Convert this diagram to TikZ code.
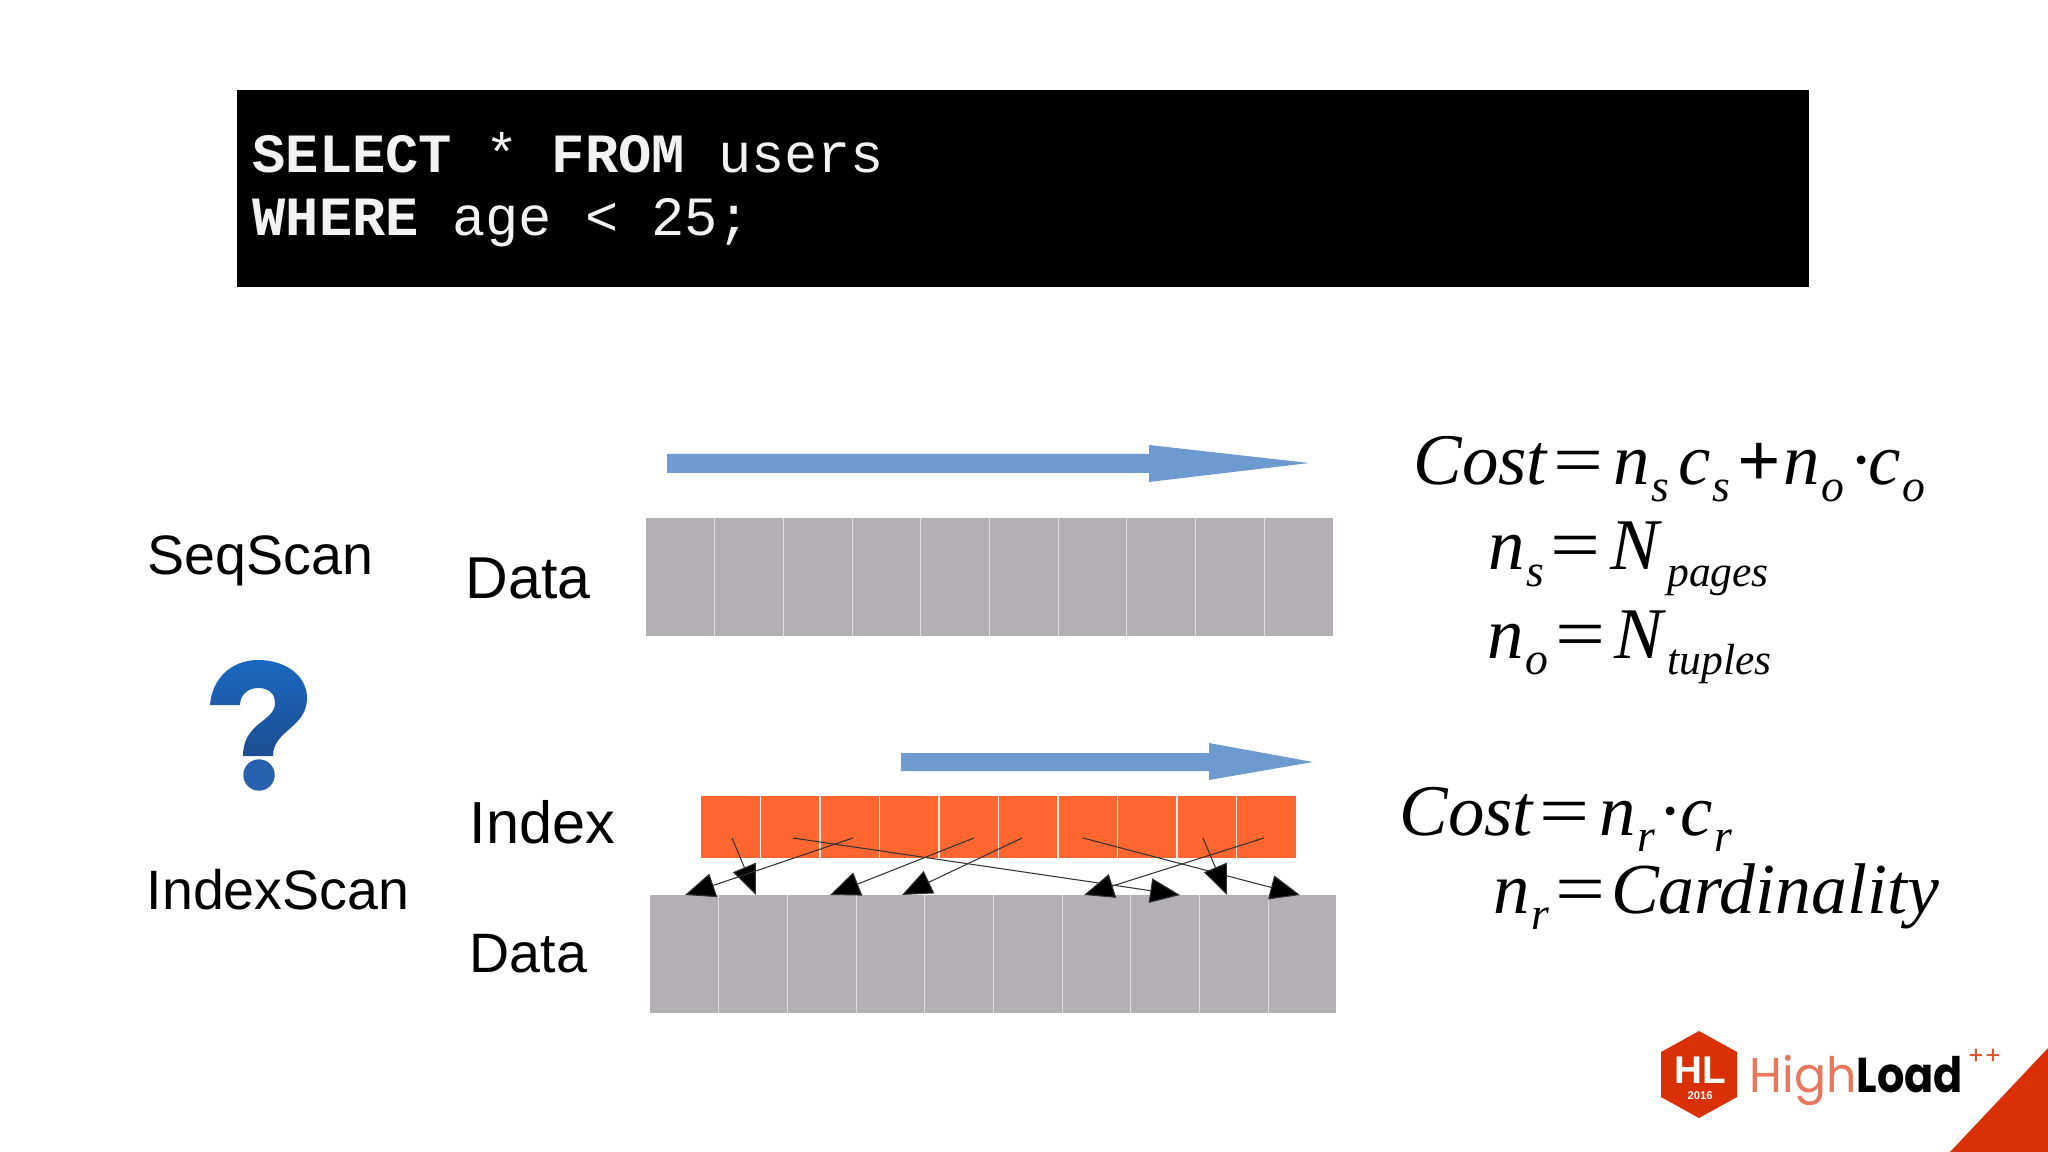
\documentclass[tikz,border=0pt]{standalone}
\usepackage{fontspec}
\setmainfont{Liberation Sans}
\setmonofont{Liberation Mono}
\newfontfamily\formfont{Liberation Serif}
\newfontfamily\logofont{Poppins}
\usetikzlibrary{arrows.meta}
\definecolor{datagray}{HTML}{B2B0B2}
\definecolor{cellline}{HTML}{DEDEDE}
\definecolor{idxorange}{HTML}{FF6630}
\definecolor{scanblue}{HTML}{6E9BCF}
\definecolor{hlred}{HTML}{DA3008}
\definecolor{asktop}{HTML}{1A68C0}
\definecolor{askbottom}{HTML}{1C4E92}
\definecolor{askdot}{HTML}{2760AC}
\newcommand{\lowidx}[1]{\hspace{0.5pt}\raisebox{-4.6pt}{\fontsize{13pt}{13pt}\selectfont #1}}
\newcommand{\lowword}[1]{\raisebox{-4.6pt}{\fontsize{12.4pt}{13pt}\selectfont #1}}
\newcommand{\eqsign}{\hspace{1.8pt}\scalebox{1.22}[1]{\upshape=}\hspace{2.8pt}}
\tikzset{
  label sans/.style={inner sep=0pt,anchor=base west,font=\fontsize{15.8pt}{18pt}\selectfont},
  sql line/.style={inner sep=0pt,anchor=base west,text=white!95!black,font=\ttfamily\fontsize{15.75pt}{18pt}\selectfont},
  formula/.style={inner sep=0pt,anchor=base west,font=\formfont\itshape\fontsize{20.7pt}{24pt}\selectfont},
  ptr/.style={draw=black!80,line width=0.3pt,-{Triangle[length=8.5pt,width=7pt,fill=black]}}
}
\begin{document}
\begin{tikzpicture}[x=0.01cm,y=-0.01cm]
    \useasboundingbox (0,0) rectangle (2048,1152);

    % requete
    \fill[black] (236.5,90) rectangle (1809,287.5);
    \node[sql line] (sqlA) at (252,172.5) {\textbf{SELECT} * \textbf{FROM} users};
    \node[sql line] (sqlB) at (252,235.5) {\textbf{WHERE} age < 25;};

    % libelles
    \node[label sans] (seq) at (147,574) {SeqScan};
    \node[label sans] (idxscan) at (146,909) {IndexScan};
    \node[label sans,font=\fontsize{16.8pt}{18pt}\selectfont] (dataA) at (465,599) {Data};
    \node[label sans,font=\fontsize{16.9pt}{18pt}\selectfont] (index) at (469,843) {Index};
    \node[label sans] (dataB) at (469,972) {Data};

    % point d'interrogation
    \shade[top color=asktop,bottom color=askbottom]
        (210,705) .. controls (212,678) and (232,660) .. (258,660)
        .. controls (286,660) and (307,676) .. (307,698)
        .. controls (307,728) and (273,730) .. (273,756) -- (243,756)
        .. controls (243,722) and (275,722) .. (275,703)
        .. controls (275,693) and (268,688) .. (258,688)
        .. controls (248,688) and (240,695) .. (240,705) -- cycle;
    \fill[askdot] (259,775) circle (15.7);

    % fleches de parcours
    \fill[scanblue] (667,454) -- (1149,454) -- (1149,445) -- (1309,463) -- (1149,482) -- (1149,473) -- (667,473) -- cycle;
    \fill[scanblue] (901,753) -- (1209,753) -- (1209,743) -- (1313,762) -- (1209,780) -- (1209,771) -- (901,771) -- cycle;

    % pages et index
    \fill[datagray] (646,518) rectangle (1333,636);
    \fill[idxorange] (701,796) rectangle (1296,858);
    \fill[datagray] (650,895) rectangle (1336,1013);
    \foreach \i in {1,...,9} {
        \draw[cellline,line width=0.3pt] (646+68.7*\i,518) -- (646+68.7*\i,636);
        \draw[white!85!idxorange,line width=0.3pt] (701+59.5*\i,796) -- (701+59.5*\i,858);
        \draw[cellline,line width=0.3pt] (650+68.7*\i,895) -- (650+68.7*\i,1013);
    }

    % pointeurs index vers donnees
    \foreach \n/\xa/\xb in {1/732/756,2/793/1180,3/853/685,4/974/830,5/1022/902,6/1083/1300,7/1203/1227,8/1264/1084} {
        \coordinate (idx\n) at (\xa,838);
        \coordinate (dat\n) at (\xb,895);
        \draw[ptr] (idx\n) -- (dat\n);
    }

    % formules
    \node[formula] (costA) at (1413,485) {Cost\eqsign n\lowidx{s}\hspace{2.6pt}c\lowidx{s}\hspace{2pt}\raisebox{-0.3pt}{\scalebox{1.05}{\upshape\bfseries+}}\hspace{0.8pt}n\lowidx{o}\hspace{1.2pt}{\upshape·}\hspace{-1.4pt}c\lowidx{o}};
    \node[formula] (ns) at (1488,570) {n\lowidx{s}\eqsign N\hspace{2.2pt}\lowword{pages}};
    \node[formula] (no) at (1487,658) {n\lowidx{o}\eqsign N\hspace{1.2pt}\lowword{tuples}};
    \node[formula] (costB) at (1399,835) {Cost\eqsign n\lowidx{r}\hspace{1pt}{\upshape·}\hspace{-0.9pt}c\lowidx{r}};
    \node[formula] (nr) at (1493,913) {n\lowidx{r}\eqsign\hspace{-1.4pt}{\fontsize{20.4pt}{24pt}\selectfont Cardinality}};

    % logo
    \fill[hlred] (1699,1031) -- (1737,1052) -- (1737,1097) -- (1699,1118) -- (1661,1097) -- (1661,1052) -- cycle;
    \node[inner sep=0pt,anchor=base,text=white,font=\bfseries\fontsize{11pt}{12pt}\selectfont] (hl) at (1700,1083) {HL};
    \node[inner sep=0pt,anchor=base,text=white,font=\bfseries\fontsize{3.2pt}{4pt}\selectfont] (year) at (1700,1099) {2016};
    \node[inner sep=0pt,anchor=base west,font=\logofont\fontsize{13.9pt}{16pt}\selectfont] (brand) at (1749,1092) {\textcolor{hlred!65!white}{\scalebox{.97}[1]{High}}\scalebox{.88}[1]{\textbf{Load}}};
    \node[inner sep=0pt,anchor=base west,text=hlred!85!white,font=\logofont\fontsize{7pt}{8pt}\selectfont] (plus) at (1967,1064) {++};
    \fill[hlred] (1950,1152) -- (2048,1048) -- (2048,1152) -- cycle;
\end{tikzpicture}
\end{document}
